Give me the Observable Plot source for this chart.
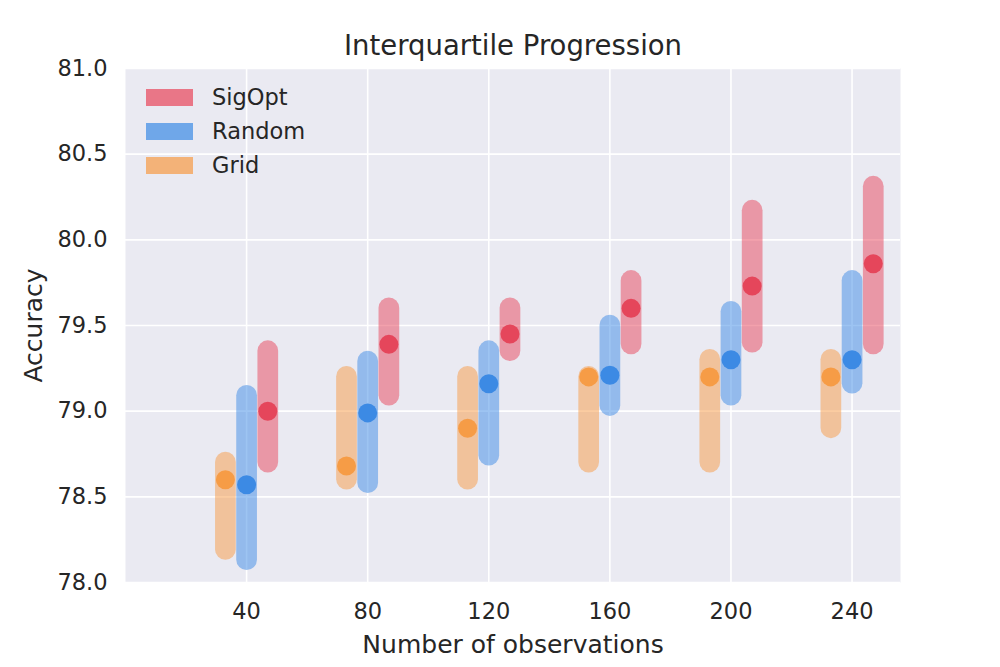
<!DOCTYPE html>
<html>
<head>
<meta charset="utf-8">
<script src="https://cdn.jsdelivr.net/npm/d3@7"></script>
<script src="https://cdn.jsdelivr.net/npm/@observablehq/plot@0.6"></script>
<style>
  html, body { margin: 0; padding: 0; background: #ffffff; }
  #wrap { position: relative; width: 1000px; height: 667px; font-family: "DejaVu Sans", sans-serif; }
  .leg { position: absolute; display: flex; align-items: center; font-size: 22.5px; color: #262626; }
  .leg .patch { width: 47px; height: 17px; margin-right: 19px; }
</style>
</head>
<body>
<div id="wrap"></div>
<script>
const obs = [40, 80, 120, 160, 200, 240];
const xTicks = [40, 80, 120, 160, 200, 240];
const yTicks = [78.0, 78.5, 79.0, 79.5, 80.0, 80.5, 81.0];

const sigoptQ1     = [78.70, 79.09, 79.35, 79.39, 79.40, 79.39];
const sigoptMedian = [79.00, 79.39, 79.45, 79.60, 79.73, 79.86];
const sigoptQ3     = [79.35, 79.60, 79.60, 79.76, 80.17, 80.31];

const randomQ1     = [78.13, 78.58, 78.74, 79.03, 79.09, 79.16];
const randomMedian = [78.57, 78.99, 79.16, 79.21, 79.30, 79.30];
const randomQ3     = [79.09, 79.29, 79.35, 79.50, 79.58, 79.76];

const gridQ1       = [78.19, 78.60, 78.60, 78.70, 78.70, 78.90];
const gridMedian   = [78.60, 78.68, 78.90, 79.20, 79.20, 79.20];
const gridQ3       = [78.70, 79.20, 79.20, 79.20, 79.30, 79.30];

const seriesNames = ["SigOpt", "Random", "Grid"];

const series = [
  {name: "Grid",   off: -7, color: "#F79A44", dot: "#F69C46", q1: gridQ1, med: gridMedian, q3: gridQ3},
  {name: "Random", off: 0,  color: "#3B8AE5", dot: "#3C8AE4", q1: randomQ1, med: randomMedian, q3: randomQ3},
  {name: "SigOpt", off: 7,  color: "#E8445A", dot: "#E5465B", q1: sigoptQ1, med: sigoptMedian, q3: sigoptQ3}
];

const rows = series.flatMap(s => obs.map((o, i) => ({
  name: s.name, x: o + s.off, color: s.color, dot: s.dot,
  q1: s.q1[i], med: s.med[i], q3: s.q3[i]
})));

const plot = Plot.plot({
  width: 1000,
  height: 667,
  marginLeft: 125,
  marginRight: 100,
  marginTop: 68,
  marginBottom: 85,
  x: {domain: [0, 256]},
  y: {domain: [78, 81]},
  style: {fontFamily: "DejaVu Sans, sans-serif", fontSize: "22.5px", color: "#262626", background: "transparent"},
  marks: [
    Plot.frame({fill: "#EAEAF2", stroke: null}),
    Plot.gridY(yTicks, {stroke: "#ffffff", strokeOpacity: 1, strokeWidth: 1.6}),
    Plot.gridX(xTicks, {stroke: "#ffffff", strokeOpacity: 1, strokeWidth: 1.6}),
    Plot.axisY(yTicks, {tickSize: 0, tickPadding: 18, tickFormat: d3.format(".1f"), label: null, fontSize: 22.5}),
    Plot.axisX(xTicks, {tickSize: 0, tickPadding: 21, label: null, fontSize: 22.5}),
    Plot.ruleX(rows, {x: "x", y1: "q1", y2: "q3", stroke: d => d.color, strokeOpacity: 0.5, strokeWidth: 20.7, strokeLinecap: "round"}),
    Plot.dot(rows, {x: "x", y: "med", r: 9.5, fill: d => d.dot, stroke: null}),
    Plot.text(["Interquartile Progression"], {frameAnchor: "top", lineAnchor: "middle", textAnchor: "middle", dy: -22, fontSize: 27.5, fill: "#262626"}),
    Plot.text(["Number of observations"], {frameAnchor: "bottom", lineAnchor: "middle", textAnchor: "middle", dy: 62, fontSize: 25, fill: "#262626"}),
    Plot.text(["Accuracy"], {frameAnchor: "left", lineAnchor: "middle", textAnchor: "middle", dx: -92, rotate: -90, fontSize: 25, fill: "#262626"})
  ]
});

const wrap = document.getElementById("wrap");
wrap.appendChild(plot);

const legendColors = {SigOpt: "#E8445A", Random: "#3B8AE5", Grid: "#F79A44"};
seriesNames.forEach((n, i) => {
  const row = document.createElement("div");
  row.className = "leg";
  row.style.left = "146px";
  row.style.top = (80 + i * 34) + "px";
  row.style.height = "34px";
  const p = document.createElement("div");
  p.className = "patch";
  p.style.background = legendColors[n];
  p.style.opacity = 0.7;
  const t = document.createElement("span");
  t.textContent = n;
  row.appendChild(p);
  row.appendChild(t);
  wrap.appendChild(row);
});
</script>
</body>
</html>
